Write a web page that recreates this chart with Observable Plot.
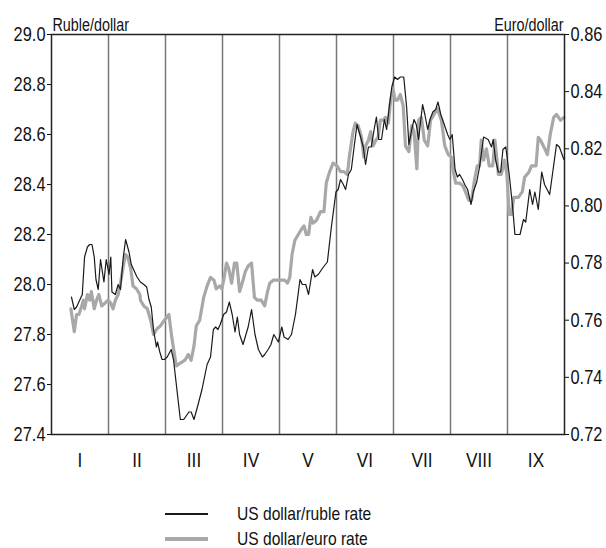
<!DOCTYPE html>
<html><head><meta charset="utf-8">
<script src="https://cdn.jsdelivr.net/npm/d3@7"></script>
<script src="https://cdn.jsdelivr.net/npm/@observablehq/plot@0.6"></script>
<style>
body{margin:0;background:#fff;font-family:"Liberation Sans",Arial,sans-serif;overflow:hidden;}
#chart svg{display:block;}
#legend{position:relative;height:58px;}
.row{position:absolute;left:165px;display:flex;align-items:center;height:18px;line-height:18px;font-size:19px;color:#111;}
.sw{display:inline-block;width:43px;margin-right:29px;}
.lt{display:inline-block;transform:scaleX(0.82);transform-origin:left center;white-space:nowrap;}
</style></head><body>
<div id="chart"></div>
<div id="legend"></div>
<script>
// months as fractional month positions (0 = start of January)
const monthLabels = ["I","II","III","IV","V","VI","VII","VIII","IX"];
const rubleTickValues = [27.4,27.6,27.8,28.0,28.2,28.4,28.6,28.8,29.0];
const euroTickValues = [0.72,0.74,0.76,0.78,0.80,0.82,0.84,0.86];

const rubleTime = [0.35,0.40,0.44,0.50,0.54,0.58,0.63,0.67,0.71,0.75,0.78,0.82,0.86,0.92,0.96,1.01,1.04,1.06,1.12,1.17,1.21,1.26,1.30,1.36,1.40,1.44,1.50,1.56,1.62,1.67,1.71,1.75,1.79,1.84,1.86,1.90,1.94,1.98,2.03,2.10,2.14,2.21,2.26,2.32,2.41,2.45,2.50,2.56,2.64,2.73,2.79,2.84,2.88,2.92,2.96,3.02,3.07,3.12,3.17,3.22,3.26,3.30,3.36,3.45,3.51,3.57,3.63,3.70,3.74,3.80,3.85,3.90,3.98,4.04,4.08,4.15,4.21,4.28,4.36,4.40,4.46,4.51,4.58,4.62,4.68,4.77,4.84,4.91,4.99,5.03,5.07,5.12,5.16,5.21,5.26,5.32,5.36,5.41,5.47,5.51,5.56,5.61,5.66,5.70,5.74,5.79,5.84,5.88,5.92,5.97,6.02,6.07,6.12,6.18,6.23,6.27,6.32,6.36,6.40,6.44,6.51,6.55,6.60,6.64,6.69,6.74,6.78,6.83,6.89,6.95,6.99,7.03,7.08,7.12,7.16,7.21,7.25,7.30,7.36,7.40,7.46,7.51,7.58,7.66,7.72,7.75,7.79,7.84,7.88,7.92,7.97,8.03,8.09,8.13,8.17,8.22,8.28,8.32,8.39,8.44,8.48,8.54,8.60,8.65,8.74,8.80,8.86,8.91,8.99];
const rubleRate = [27.95,27.90,27.91,27.94,27.96,28.11,28.15,28.16,28.16,28.11,28.02,27.98,28.10,28.01,28.10,28.04,28.11,27.97,27.96,28.00,27.98,28.11,28.18,28.13,28.08,28.06,28.03,28.01,28.00,27.99,27.94,27.91,27.82,27.75,27.77,27.73,27.70,27.70,27.71,27.74,27.70,27.56,27.46,27.46,27.49,27.49,27.46,27.51,27.58,27.68,27.71,27.82,27.83,27.82,27.84,27.88,27.89,27.93,27.88,27.81,27.87,27.80,27.76,27.83,27.90,27.80,27.74,27.71,27.72,27.74,27.76,27.80,27.77,27.83,27.79,27.78,27.80,27.88,28.02,28.00,28.00,27.96,28.06,28.03,28.04,28.07,28.09,28.23,28.37,28.38,28.42,28.40,28.38,28.44,28.46,28.57,28.64,28.60,28.55,28.48,28.55,28.55,28.62,28.67,28.58,28.58,28.66,28.62,28.70,28.79,28.83,28.82,28.83,28.83,28.71,28.56,28.62,28.66,28.64,28.58,28.72,28.68,28.62,28.66,28.69,28.70,28.73,28.68,28.64,28.60,28.58,28.60,28.46,28.43,28.44,28.42,28.40,28.38,28.32,28.37,28.41,28.47,28.59,28.58,28.55,28.58,28.50,28.45,28.45,28.54,28.55,28.44,28.31,28.20,28.20,28.20,28.26,28.25,28.38,28.32,28.37,28.30,28.45,28.40,28.36,28.46,28.56,28.55,28.50];

const euroTime = [0.34,0.40,0.44,0.48,0.53,0.56,0.58,0.63,0.67,0.70,0.75,0.79,0.83,0.88,0.94,0.99,1.04,1.08,1.12,1.17,1.21,1.26,1.30,1.34,1.39,1.43,1.49,1.55,1.56,1.62,1.68,1.74,1.79,1.85,1.91,1.98,2.06,2.11,2.15,2.19,2.26,2.34,2.40,2.45,2.50,2.54,2.60,2.67,2.73,2.79,2.85,2.89,2.95,2.99,3.03,3.07,3.11,3.16,3.21,3.25,3.30,3.36,3.40,3.45,3.51,3.56,3.61,3.68,3.74,3.79,3.83,3.89,3.96,4.04,4.09,4.14,4.18,4.22,4.27,4.33,4.39,4.43,4.47,4.51,4.55,4.59,4.65,4.72,4.78,4.82,4.88,4.94,5.01,5.07,5.13,5.19,5.23,5.29,5.33,5.38,5.44,5.48,5.51,5.56,5.60,5.64,5.69,5.73,5.77,5.82,5.86,5.91,5.95,5.99,6.03,6.07,6.12,6.17,6.21,6.27,6.32,6.36,6.41,6.44,6.49,6.54,6.60,6.65,6.71,6.77,6.84,6.90,6.96,7.02,7.05,7.09,7.16,7.22,7.28,7.32,7.37,7.42,7.47,7.51,7.54,7.58,7.63,7.68,7.74,7.78,7.84,7.89,7.95,7.99,8.03,8.07,8.11,8.19,8.26,8.30,8.38,8.42,8.50,8.54,8.58,8.63,8.70,8.75,8.81,8.86,8.93,8.99];
const euroRate = [0.764,0.756,0.762,0.762,0.765,0.767,0.764,0.769,0.767,0.770,0.764,0.767,0.769,0.765,0.766,0.767,0.766,0.764,0.767,0.769,0.773,0.779,0.783,0.782,0.778,0.772,0.771,0.769,0.767,0.765,0.764,0.760,0.755,0.757,0.758,0.760,0.762,0.754,0.749,0.744,0.745,0.746,0.748,0.746,0.751,0.758,0.760,0.768,0.772,0.775,0.774,0.771,0.772,0.771,0.775,0.780,0.778,0.773,0.780,0.780,0.770,0.774,0.777,0.779,0.780,0.768,0.767,0.767,0.765,0.770,0.773,0.774,0.774,0.774,0.774,0.773,0.775,0.783,0.788,0.790,0.792,0.793,0.790,0.790,0.796,0.794,0.795,0.798,0.798,0.808,0.812,0.815,0.814,0.812,0.812,0.811,0.818,0.826,0.829,0.828,0.824,0.817,0.821,0.823,0.826,0.821,0.823,0.824,0.830,0.830,0.831,0.829,0.837,0.841,0.837,0.837,0.839,0.835,0.821,0.819,0.828,0.826,0.813,0.830,0.831,0.823,0.821,0.830,0.832,0.834,0.830,0.821,0.818,0.817,0.812,0.808,0.808,0.807,0.804,0.802,0.802,0.809,0.814,0.814,0.823,0.816,0.820,0.814,0.814,0.823,0.811,0.811,0.816,0.811,0.797,0.797,0.803,0.803,0.805,0.810,0.812,0.814,0.814,0.824,0.823,0.821,0.818,0.825,0.831,0.832,0.830,0.831];

// map euro/dollar onto ruble/dollar axis (0.72..0.86 <-> 27.4..29.0)
const toRuble = e => 27.4 + (e - 0.72) / 0.14 * 1.6;

const ruble = rubleTime.map((t, i) => ({t, v: rubleRate[i]}));
const euro = euroTime.map((t, i) => ({t, v: toRuble(euroRate[i])}));

const font = '"Liberation Sans",Arial,sans-serif';

const chart = Plot.plot({
  width: 606,
  height: 490,
  marginLeft: 51,
  marginRight: 42,
  marginTop: 34,
  marginBottom: 56,
  style: {fontFamily: font, fontSize: "20px", color: "#111", background: "#fff"},
  x: {domain: [0, 9]},
  y: {domain: [27.4, 29.0]},
  marks: [
    Plot.ruleX(d3.range(1, 9), {stroke: "#777", strokeWidth: 1.5}),
    Plot.line(euro, {x: "t", y: "v", stroke: "#a8a8a8", strokeWidth: 3.2, strokeLinejoin: "round"}),
    Plot.line(ruble, {x: "t", y: "v", stroke: "#1a1a1a", strokeWidth: 1.2}),
    Plot.frame({stroke: "#222", strokeWidth: 1.5}),
    Plot.axisY({anchor: "left", ticks: rubleTickValues, tickFormat: d3.format(".1f"), tickSize: 4, tickPadding: 2, label: null, fontSize: 20}),
    Plot.axisY({anchor: "right", ticks: euroTickValues.map(toRuble), tickFormat: (d, i) => d3.format(".2f")(euroTickValues[i]), tickSize: 4, tickPadding: 2, label: null, fontSize: 20}),
    Plot.axisX({anchor: "bottom", ticks: d3.range(9).map(i => i + 0.5), tickFormat: (d, i) => monthLabels[i], tickSize: 0, tickPadding: 18, label: null, fontSize: 21}),
    Plot.text(["Ruble/dollar"], {frameAnchor: "top-left", dx: 1, dy: -16, textAnchor: "start", fontSize: 17.5, fill: "#111"}),
    Plot.text(["Euro/dollar"], {frameAnchor: "top-right", dx: -1, dy: -16, textAnchor: "end", fontSize: 17.5, fill: "#111"})
  ]
});
document.getElementById("chart").append(chart);

// condense all chart text horizontally around its anchor point
const SX = 0.82;
chart.querySelectorAll("text").forEach(t => {
  const b = t.getBBox();
  const anchor = getComputedStyle(t).textAnchor;
  const x0 = anchor === "end" ? b.x + b.width : anchor === "middle" ? b.x + b.width / 2 : b.x;
  const prev = t.getAttribute("transform") || "";
  t.setAttribute("transform", `${prev} translate(${x0},0) scale(${SX},1) translate(${-x0},0)`.trim());
});

const legendItems = [
  {label: "US dollar/ruble rate", color: "#1a1a1a", w: 1.5},
  {label: "US dollar/euro rate", color: "#a8a8a8", w: 3.5}
];
const lg = document.getElementById("legend");
legendItems.forEach((it, i) => {
  const row = document.createElement("div");
  row.className = "row";
  row.style.top = (15 + i * 25) + "px";
  const sw = document.createElement("span");
  sw.className = "sw";
  sw.style.height = it.w + "px";
  sw.style.background = it.color;
  const tx = document.createElement("span");
  tx.className = "lt";
  tx.textContent = it.label;
  row.append(sw, tx);
  lg.append(row);
});
</script>
</body></html>
